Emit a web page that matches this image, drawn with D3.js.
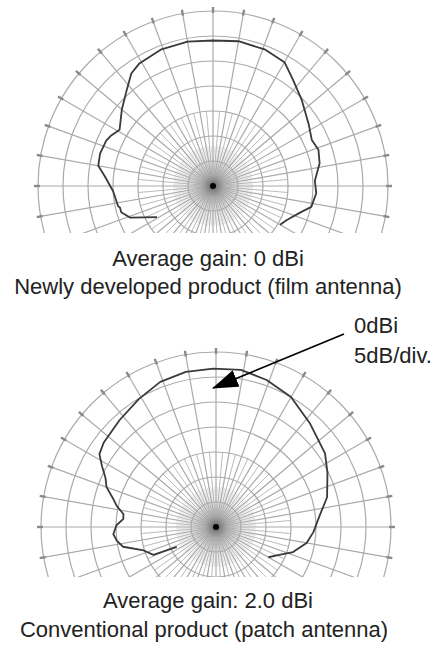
<!DOCTYPE html>
<html>
<head>
<meta charset="utf-8">
<script src="https://cdn.jsdelivr.net/npm/d3@7"></script>
<style>
  body { margin: 0; background: #fff; }
  svg { display: block; font-family: Arial, "Liberation Sans", sans-serif; }
</style>
</head>
<body>
<svg id="chart" width="437" height="650"></svg>
<script>
// radial grid, dBi (5 dB/div.), 0 dBi = 6th ring
const ringDb = [-25, -20, -15, -10, -5, 0, 5];
const dbRange = [-30, 5];

// newly developed product (film antenna), angle from boresight in degrees
const filmAngle = [-119, -111, -106, -103, -102, -93, -85, -80, -74, -67, -64, -59, -50, -42, -36, -31, -21, -10, 0, 10, 21, 30, 37, 46, 57, 65, 71, 78, 87, 94, 102, 107, 115, 120];
const filmGain  = [-17.2, -12.3, -10.9, -10.9, -10.6, -10, -8.3, -6.7, -6.5, -6.8, -7.2, -8.2, -6.2, -4.2, -2.2, -1.4, -0.8, -0.7, -0.9, -0.6, -0.8, -1.4, -3.4, -5.3, -7.2, -8.2, -7.7, -8.2, -9.6, -9.3, -9.9, -11.8, -13.8, -14.5];

// conventional product (patch antenna)
const patchAngle = [-117, -114, -108, -102, -98, -94, -89, -85, -82, -78, -75, -70, -66, -62, -58, -53, -42, -31, -21, -11, -1, 9, 19, 30, 42, 56, 64, 75, 83, 93, 100, 108, 115, 120];
const patchGain  = [-21.2, -16.3, -14.8, -11, -10, -9.4, -10.1, -11.4, -11.3, -9.7, -8.8, -6.7, -5.8, -4.2, -2.5, -1.9, -1.2, -0.1, 1.1, 1.6, 1.7, 1.8, 1.1, 0, -2, -3.7, -5.2, -7, -9, -10.5, -11.6, -13.8, -16.6, -17.9];

const captions = [
  ["Average gain: 0 dBi", "Newly developed product (film antenna)"],
  ["Average gain: 2.0 dBi", "Conventional product (patch antenna)"]
];
const noteLines = ["0dBi", "5dB/div."];

const svg = d3.select("#chart");
const r = d3.scaleLinear().domain(dbRange).range([0, 175]);
const rad = d => d * Math.PI / 180;

const defs = svg.append("defs");
const grad = defs.append("radialGradient").attr("id", "hub");
grad.append("stop").attr("offset", "0%").attr("stop-color", "#555").attr("stop-opacity", 0.9);
grad.append("stop").attr("offset", "45%").attr("stop-color", "#999").attr("stop-opacity", 0.35);
grad.append("stop").attr("offset", "100%").attr("stop-color", "#bbb").attr("stop-opacity", 0);

function drawPlot(id, cx, cy, below, angles, gains) {
  defs.append("clipPath").attr("id", "clip" + id)
    .append("rect").attr("x", -215).attr("y", -200).attr("width", 430).attr("height", 200 + below);

  const g = svg.append("g")
    .attr("transform", "translate(" + cx + "," + cy + ")")
    .attr("clip-path", "url(#clip" + id + ")");

  const grid = g.append("g").attr("fill", "none").attr("stroke", "#aaa");

  // fine spokes near the hub
  grid.selectAll(".fine").data(d3.range(0, 360, 2.5)).enter().append("line")
    .attr("x2", d => r(-22) * Math.sin(rad(d)))
    .attr("y2", d => -r(-22) * Math.cos(rad(d)))
    .attr("stroke-width", 0.5).attr("stroke", "#c8c8c8");

  // 5 deg spokes
  grid.selectAll(".minor").data(d3.range(5, 360, 10)).enter().append("line")
    .attr("x2", d => r(-15) * Math.sin(rad(d)))
    .attr("y2", d => -r(-15) * Math.cos(rad(d)))
    .attr("stroke-width", 0.8);

  // 10 deg spokes
  grid.selectAll(".major").data(d3.range(0, 360, 10)).enter().append("line")
    .attr("x2", d => r(5) * Math.sin(rad(d)))
    .attr("y2", d => -r(5) * Math.cos(rad(d)))
    .attr("stroke-width", 1.2);

  grid.selectAll(".ring").data(ringDb).enter().append("circle")
    .attr("r", d => r(d))
    .attr("stroke-width", 1.2);

  // outer ring ticks
  grid.selectAll(".tick").data(d3.range(0, 360, 10)).enter().append("line")
    .attr("x1", d => (r(5) - 2) * Math.sin(rad(d)))
    .attr("y1", d => -(r(5) - 2) * Math.cos(rad(d)))
    .attr("x2", d => (r(5) + 4) * Math.sin(rad(d)))
    .attr("y2", d => -(r(5) + 4) * Math.cos(rad(d)))
    .attr("stroke", "#8a8a8a").attr("stroke-width", 2.4);

  g.append("circle").attr("r", 26).attr("fill", "url(#hub)");
  g.append("circle").attr("r", 3).attr("fill", "#000");

  const line = d3.lineRadial()
    .angle((d, i) => rad(angles[i]))
    .radius(d => r(d))
    .curve(d3.curveLinear);

  g.append("path")
    .datum(gains)
    .attr("d", line)
    .attr("fill", "none")
    .attr("stroke", "#3a3a3a")
    .attr("stroke-width", 1.8)
    .attr("stroke-linejoin", "round");
}

drawPlot(0, 213, 186, 47, filmAngle, filmGain);
drawPlot(1, 216, 527, 50, patchAngle, patchGain);

const text = svg.append("g").attr("font-size", 22).attr("fill", "#222").attr("text-anchor", "middle");
text.append("text").attr("x", 208).attr("y", 266).text(captions[0][0]);
text.append("text").attr("x", 208).attr("y", 294).text(captions[0][1]);
text.append("text").attr("x", 208).attr("y", 608).text(captions[1][0]);
text.append("text").attr("x", 204).attr("y", 637).text(captions[1][1]);

// 0 dBi pointer
defs.append("marker").attr("id", "head")
  .attr("viewBox", "0 0 26 18").attr("refX", 25).attr("refY", 9)
  .attr("markerWidth", 26).attr("markerHeight", 18)
  .attr("markerUnits", "userSpaceOnUse").attr("orient", "auto")
  .append("path").attr("d", "M0,0L26,9L0,18Z").attr("fill", "#000");

svg.append("line")
  .attr("x1", 344).attr("y1", 334).attr("x2", 213).attr("y2", 388)
  .attr("stroke", "#000").attr("stroke-width", 1.6)
  .attr("marker-end", "url(#head)");

svg.append("g").attr("font-size", 22).attr("fill", "#222")
  .selectAll("text").data(noteLines).enter().append("text")
  .attr("x", 354).attr("y", (d, i) => 333 + i * 30)
  .text(d => d);
</script>
</body>
</html>
